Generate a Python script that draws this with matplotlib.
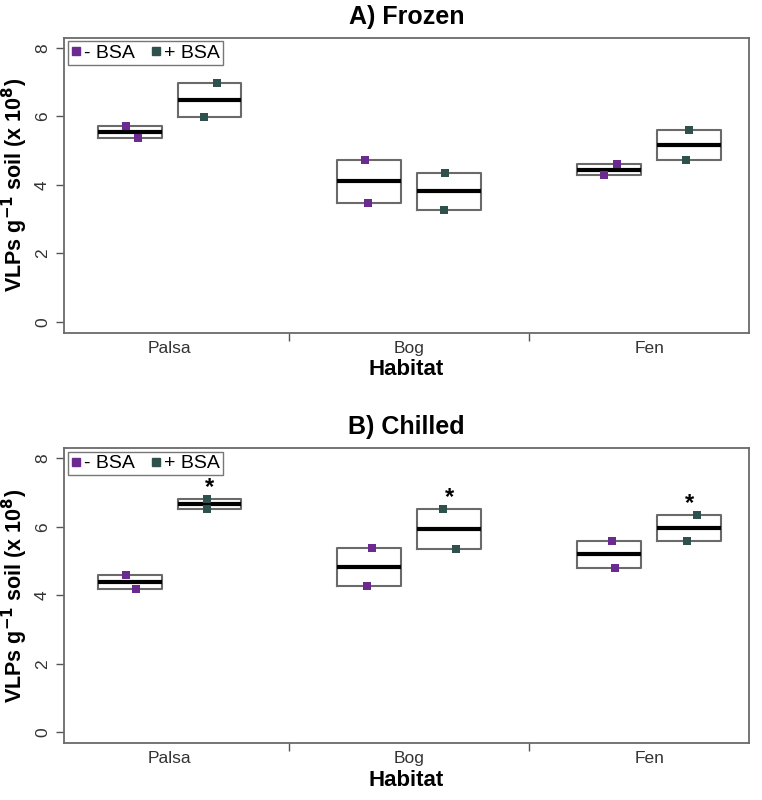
import matplotlib
matplotlib.use("Agg")
import matplotlib.pyplot as plt
from matplotlib.lines import Line2D
import numpy as np

plt.rcParams['font.family'] = ['Liberation Sans', 'DejaVu Sans']

habitats = ["Palsa", "Bog", "Fen"]
treatments = ["- BSA", "+ BSA"]

# two replicate values per box, order: Palsa-, Palsa+, Bog-, Bog+, Fen-, Fen+
frozen_vals = [[5.71, 5.38], [6.97, 5.99], [4.73, 3.48], [4.36, 3.27], [4.60, 4.29], [5.59, 4.74]]
chilled_vals = [[4.60, 4.19], [6.82, 6.51], [5.39, 4.28], [6.51, 5.35], [5.58, 4.81], [6.35, 5.58]]
# horizontal jitter of the replicate points
frozen_jit = [[-0.05, 0.10], [0.09, -0.07], [-0.05, -0.02], [-0.05, -0.06], [0.10, -0.07], [0.0, -0.04]]
chilled_jit = [[-0.04, 0.08], [-0.03, -0.03], [0.03, -0.03], [-0.08, 0.08], [0.03, 0.07], [0.10, -0.02]]
chilled_signif = [False, True, False, True, False, True]

colors = ["#6B2A90", "#2F514E"]
positions = [1, 2, 4, 5, 7, 8]

fig = plt.figure(figsize=(7.62, 8.0), dpi=100)
ax1 = fig.add_axes([0.084, 0.584, 0.899, 0.369])
ax2 = fig.add_axes([0.084, 0.071, 0.899, 0.369])

def draw(ax, vals, jit, title, signif=None):
    stats = []
    for v in vals:
        lo, hi = min(v), max(v)
        stats.append(dict(med=float(np.median(v)), q1=lo, q3=hi, whislo=lo, whishi=hi, fliers=[]))
    ax.bxp(stats, positions=positions, widths=0.8, showcaps=False, manage_ticks=False,
           boxprops=dict(color="#6a6a6a", linewidth=1.5),
           whiskerprops=dict(linewidth=0),
           medianprops=dict(color="black", linewidth=3.0, solid_capstyle="butt"))
    for i, (v, j) in enumerate(zip(vals, jit)):
        c = colors[i % 2]
        ax.scatter(np.array(positions[i]) + np.array(j), v, marker="s", s=28, color=c,
                   zorder=5, linewidths=0)
        if signif is not None and signif[i]:
            ax.text(positions[i], max(v) + 0.33, "*", ha="center", va="center",
                    fontsize=17, fontweight="bold", color="black")
    ax.set_xlim(0.18, 8.75)
    ax.set_ylim(-0.32, 8.3)
    ax.set_yticks([0, 2, 4, 6, 8])
    ax.set_yticklabels(["0", "2", "4", "6", "8"], rotation=90, va="center", fontsize=12.5, color="#333333")
    ax.set_xticks([3, 6])
    ax.set_xticklabels(["", ""])
    ax.tick_params(axis="both", direction="out", length=6, color="#555555", width=1)
    ax.tick_params(axis="y", pad=4)
    centers = [1.5, 4.5, 7.5]
    for cx, h in zip(centers, habitats):
        ax.text(cx, -0.55, h, ha="center", va="top", fontsize=12.5, color="#333333")
    for s in ax.spines.values():
        s.set_color("#6a6a6a")
        s.set_linewidth(1.3)
    ax.set_title(title, fontsize=18, fontweight="bold", pad=10)
    ax.text(0.5, -0.125, "Habitat", transform=ax.transAxes, ha="center", va="center",
            fontsize=16, fontweight="bold")
    ax.text(-0.072, 0.5, r"VLPs g$^{\mathbf{-1}}$ soil (x 10$^{\mathbf{8}}$)", transform=ax.transAxes,
            rotation=90, ha="center", va="center", fontsize=15.5, fontweight="bold")
    handles = [Line2D([], [], marker="s", linestyle="none", color=colors[k], markersize=6)
               for k in range(2)]
    ax.legend(handles, treatments, loc="upper left", ncol=2, fontsize=14, frameon=True,
              fancybox=False, edgecolor="#555555", handlelength=0.5, handletextpad=0.2,
              columnspacing=0.8, borderpad=0.15, borderaxespad=0.2)

draw(ax1, frozen_vals, frozen_jit, "A) Frozen")
draw(ax2, chilled_vals, chilled_jit, "B) Chilled", chilled_signif)

fig.savefig("out.png", dpi=100)
